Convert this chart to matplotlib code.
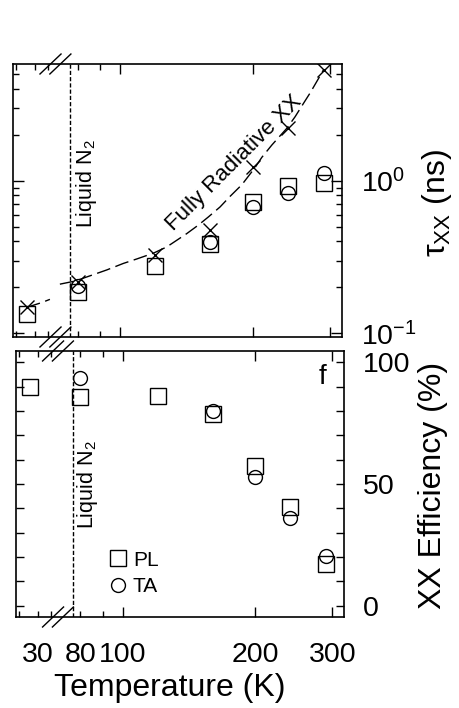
import numpy as np
import matplotlib.pyplot as plt
from matplotlib.ticker import FixedLocator, FixedFormatter, LogLocator, NullFormatter, LogFormatterSciNotation

plt.rcParams['font.family'] = ['Liberation Sans', 'DejaVu Sans']
plt.rcParams['mathtext.fontset'] = 'custom'
plt.rcParams['mathtext.rm'] = 'Liberation Sans'
plt.rcParams['mathtext.it'] = 'Liberation Sans:italic'
plt.rcParams['mathtext.default'] = 'regular'

# temperatures (K) and values
temp_pl = [25, 80, 120, 160, 200, 240, 290]
tau_pl = [0.134, 0.186, 0.276, 0.385, 0.722, 0.927, 0.962]
temp_ta = [80, 160, 200, 240, 290]
tau_ta = [0.204, 0.395, 0.676, 0.834, 1.128]
temp_rad = [25, 80, 120, 160, 200, 240, 290]
tau_rad = [0.148, 0.218, 0.326, 0.478, 1.235, 2.20, 5.31]

# fully radiative model curve (low-T piece and high-T piece)
fit_temp_low = [25, 34.5, 41.3]
fit_tau_low = [0.148, 0.159, 0.167]
fit_temp_high = [72.9, 78.9, 85.3, 93.1, 101.6, 109.0, 118.9, 127.5, 141.6, 150.5,
                 158.5, 168.5, 177.7, 188.9, 202.5, 209.7, 221.0, 239.0, 249.6,
                 260.7, 270.0, 282.0, 289.5]
fit_tau_high = [0.210, 0.220, 0.238, 0.260, 0.287, 0.307, 0.335, 0.368, 0.450, 0.512,
                0.578, 0.672, 0.790, 0.940, 1.22, 1.42, 1.71, 2.20, 2.62,
                3.20, 3.75, 4.65, 5.31]

eff_pl = [90.0, 85.9, 86.2, 78.8, 57.3, 40.7, 17.3]
eff_ta = [93.5, 80.1, 52.8, 35.9, 20.3]

t_ln2 = 77
x_major = [100, 200, 300]
x_minor = [20, 30, 40, 80, 90]
x_minor_labels = ['', '30', '', '80', '']

# broken temperature axis: compressed log below the break, log above
A_LOW, B_LOW, T_SPLIT = 0.242, 1.449, 57.0


def fwd(t):
    t = np.clip(np.asarray(t, dtype=float), 1e-6, None)
    lg = np.log10(t)
    return np.where(t < T_SPLIT, A_LOW * lg + B_LOW, lg)


def inv(c):
    c = np.asarray(c, dtype=float)
    return np.where(c < 1.852, 10 ** ((c - B_LOW) / A_LOW), 10 ** c)


def style_x(ax, labels):
    ax.set_xscale('function', functions=(fwd, inv))
    ax.set_xlim(18.6, 319)
    ax.xaxis.set_major_locator(FixedLocator(x_major))
    ax.xaxis.set_minor_locator(FixedLocator(x_minor))
    if labels:
        ax.xaxis.set_major_formatter(FixedFormatter([str(v) for v in x_major]))
        ax.xaxis.set_minor_formatter(FixedFormatter(x_minor_labels))
    else:
        ax.xaxis.set_major_formatter(NullFormatter())
        ax.xaxis.set_minor_formatter(NullFormatter())
    ax.tick_params(axis='x', which='both', direction='in', top=True, bottom=True,
                   labelsize=20.5, pad=18, width=1)
    ax.tick_params(axis='x', which='major', length=7)
    ax.tick_params(axis='x', which='minor', length=4.5)
    ax.tick_params(axis='y', which='both', direction='in', left=True, right=True,
                   labelleft=False, labelright=True, labelsize=20.5, pad=13.5, width=1)
    for s in ax.spines.values():
        s.set_linewidth(1.2)


def break_marks(ax, xs, dx, dy):
    for y in (0, 1):
        for x in xs:
            ax.plot([x - dx, x + dx], [y - dy, y + dy], color='k', lw=1,
                    transform=ax.transAxes, clip_on=False)


fig = plt.figure(figsize=(4.59, 7.08), dpi=100)
ax1 = fig.add_axes([13 / 459, 1 - 337 / 708, 329 / 459, 273 / 708])
ax2 = fig.add_axes([16 / 459, 1 - 617 / 708, 328 / 459, 266 / 708])

# top panel: lifetimes
ax1.plot(fit_temp_low, fit_tau_low, color='k', lw=1, ls=(0, (10, 4)))
ax1.plot(fit_temp_high, fit_tau_high, color='k', lw=1, ls=(0, (10, 4)))
ax1.plot(temp_rad, tau_rad, ls='none', marker='x', ms=10, mec='k', mew=1)
ax1.plot(temp_pl, tau_pl, ls='none', marker='s', ms=11, mfc='none', mec='k', mew=1)
ax1.plot(temp_ta, tau_ta, ls='none', marker='o', ms=10, mfc='none', mec='k', mew=1)
ax1.axvline(t_ln2, color='k', lw=1, ls=(0, (3, 1.5)))
ax1.set_yscale('log')
ax1.set_ylim(0.0947, 5.8)
style_x(ax1, False)
ax1.yaxis.set_major_locator(LogLocator(base=10, numticks=5))
ax1.yaxis.set_major_formatter(LogFormatterSciNotation())
ax1.yaxis.set_minor_locator(LogLocator(base=10, subs=np.arange(2, 10), numticks=20))
ax1.yaxis.set_minor_formatter(NullFormatter())
ax1.tick_params(axis='y', which='major', length=8)
ax1.tick_params(axis='y', which='minor', length=4.5)
ax1.text(84, 0.56, 'Liquid N$_2$', rotation=90, fontsize=15.5, ha='center', va='center',
         transform=ax1.get_xaxis_transform())
ax1.text(181, 1.30, 'Fully Radiative XX', rotation=45, rotation_mode='anchor',
         fontsize=16, ha='center', va='center')
ax1.yaxis.set_label_position('right')
ax1.set_ylabel(r'$\tau_{XX}$ (ns)', fontsize=23, rotation=90, va='center', ha='center')
ax1.yaxis.set_label_coords(1.289, 0.489)
break_marks(ax1, [0.114, 0.144], 0.032, 0.0366)

# bottom panel: efficiency
pl_line, = ax2.plot(temp_pl, eff_pl, ls='none', marker='s', ms=11, mfc='none', mec='k', mew=1, label='PL')
ta_line, = ax2.plot(temp_ta, eff_ta, ls='none', marker='o', ms=10, mfc='none', mec='k', mew=1, label='TA')
ax2.axvline(t_ln2, color='k', lw=1, ls=(0, (3, 1.5)))
ax2.set_ylim(-4.6, 104.6)
style_x(ax2, True)
ax2.yaxis.set_major_locator(FixedLocator([0, 50, 100]))
ax2.yaxis.set_minor_locator(FixedLocator(np.arange(10, 100, 10)))
ax2.tick_params(axis='y', which='both', length=6)
ax2.text(83, 0.496, 'Liquid N$_2$', rotation=90, fontsize=15.5, ha='center', va='center',
         transform=ax2.get_xaxis_transform())
ax2.text(0.933, 0.902, 'f', fontsize=20, ha='center', va='center', transform=ax2.transAxes)
ax2.legend(handles=[pl_line, ta_line], loc='upper left', bbox_to_anchor=(0.279, 0.25),
           frameon=False, fontsize=15, handlelength=1, handletextpad=0.22,
           labelspacing=0.36, borderpad=0, borderaxespad=0)
ax2.set_xlabel('Temperature (K)', fontsize=23, va='center')
ax2.xaxis.set_label_coords(0.47, -0.267)
ax2.yaxis.set_label_position('right')
ax2.set_ylabel('XX Efficiency (%)', fontsize=23, rotation=90, va='center', ha='center')
ax2.yaxis.set_label_coords(1.271, 0.496)
break_marks(ax2, [0.113, 0.143], 0.032, 0.0376)

fig.savefig('out.png', dpi=100)
